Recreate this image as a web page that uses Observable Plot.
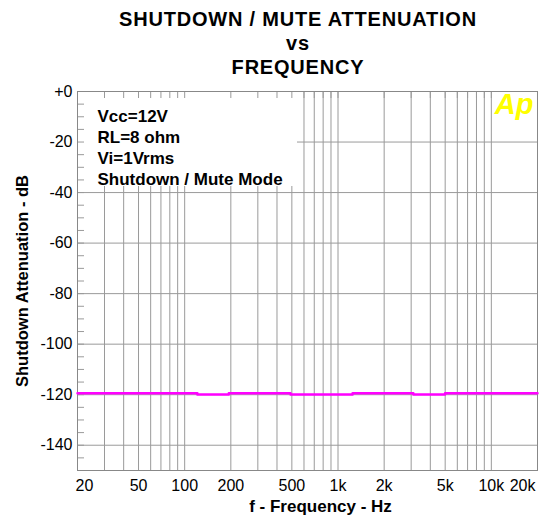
<!DOCTYPE html>
<html><head><meta charset="utf-8">
<script src="https://cdn.jsdelivr.net/npm/d3@7"></script>
<script src="https://cdn.jsdelivr.net/npm/@observablehq/plot@0.6"></script>
<style>
body{margin:0;background:#fff;font-family:"Liberation Sans",Arial,sans-serif;}
#title{width:500px;margin-left:48px;text-align:center;font-weight:bold;font-size:20px;letter-spacing:0.8px;line-height:24px;padding-top:7px;height:73px;color:#000;}
</style></head><body>
<div id="title"></div>
<div id="chart"></div>
<script>
// ---- data ----
const titleLines = ["SHUTDOWN / MUTE ATTENUATION", "vs", "FREQUENCY"];
const freqHz  = [20, 121, 194, 490, 1245, 3100, 4990, 20000];
const attenDb = [-119.4, -119.9, -119.4, -119.9, -119.4, -119.9, -119.4, -119.4];
const xTickValues = [20, 50, 100, 200, 500, 1000, 2000, 5000, 10000, 20000];
const xTickLabels = ["20", "50", "100", "200", "500", "1k", "2k", "5k", "10k", "20k"];
const xGridValues = [30, 40, 50, 60, 70, 80, 90, 100, 200, 300, 400, 500, 600, 700, 800, 900,
                     1000, 2000, 3000, 4000, 5000, 6000, 7000, 8000, 9000, 10000];
const yTickValues = [0, -20, -40, -60, -80, -100, -120, -140];
const yMinorValues = [-5, -10, -15, -20, -25, -30, -35, -40, -45, -50, -55, -60, -65, -70, -75,
                      -80, -85, -90, -95, -100, -105, -110, -115, -120, -125, -130, -135, -140, -145];
const annotationLines = ["Vcc=12V", "RL=8 ohm", "Vi=1Vrms", "Shutdown / Mute Mode"];
const xTitle = "f - Frequency - Hz";
const yTitle = "Shutdown Attenuation - dB";
const logoText = "Ap";

// ---- layout ----
const W = 547, H = 442, mL = 77, mR = 10, mT = 11, mB = 52;
const plotW = W - mL - mR, plotH = H - mT - mB;
const gridColor = "#9a9a9a", frameColor = "#888888";

document.getElementById("title").innerHTML = titleLines.map(t => `<div>${t}</div>`).join("");

const data = freqHz.map((f, i) => ({f, db: attenDb[i]}));
const fmtX = d => xTickLabels[xTickValues.indexOf(d)];
const fmtY = d => d === 0 ? "+0" : String(d);
const xLab = {x: d => d, text: fmtX, frameAnchor: "bottom", lineAnchor: "middle", dy: 15, fontSize: 16};

const chart = Plot.plot({
  width: W, height: H,
  marginLeft: mL, marginRight: mR, marginTop: mT, marginBottom: mB,
  style: {fontFamily: "'Liberation Sans', Arial, sans-serif", fontSize: "16px", color: "#000", background: "#fff"},
  x: {type: "log", domain: [20, 20000], label: null, axis: null},
  y: {domain: [-150, 0], label: null},
  marks: [
    Plot.ruleX(xGridValues, {stroke: gridColor, strokeWidth: 1}),
    Plot.ruleY(yTickValues.slice(1), {stroke: gridColor, strokeWidth: 1}),
    Plot.rect([0], {fill: "white", insetRight: 240, insetBottom: 284}),
    Plot.ruleX(xGridValues, {stroke: gridColor, strokeWidth: 1, insetBottom: plotH - 7}),
    Plot.ruleY(yMinorValues, {stroke: gridColor, strokeWidth: 1, insetRight: plotW - 7}),
    Plot.frame({stroke: frameColor, strokeWidth: 1}),
    Plot.line(data, {x: "f", y: "db", curve: "step-after", stroke: "#ff00ff", strokeWidth: 2.5}),
    Plot.text(xTickValues.slice(1, -1), {...xLab, textAnchor: "middle"}),
    Plot.text(xTickValues.slice(0, 1), {...xLab, textAnchor: "start", dx: -2}),
    Plot.text(xTickValues.slice(-1), {...xLab, textAnchor: "end", dx: -2}),
    Plot.axisY({ticks: yTickValues, tickFormat: fmtY, tickSize: 0, tickPadding: 5}),
    Plot.text([xTitle], {frameAnchor: "bottom", lineAnchor: "middle", textAnchor: "middle", dx: 13, dy: 36, fontWeight: "bold", fontSize: 17, letterSpacing: 0.3}),
    Plot.text([yTitle], {frameAnchor: "left", textAnchor: "middle", lineAnchor: "middle", dx: -55, rotate: -90, fontWeight: "bold", fontSize: 16.5}),
    Plot.text([annotationLines.join("\n")], {frameAnchor: "top-left", dx: 20, dy: 15, textAnchor: "start", lineAnchor: "top", lineHeight: 1.25, fontWeight: "bold", fontSize: 17, letterSpacing: 0.3}),
    Plot.text([logoText], {frameAnchor: "top-right", dx: -4, dy: 2, textAnchor: "end", lineAnchor: "top", fill: "#ffff00", fontWeight: "bold", fontStyle: "italic", fontSize: 29})
  ]
});
document.getElementById("chart").appendChild(chart);
</script>
</body></html>
